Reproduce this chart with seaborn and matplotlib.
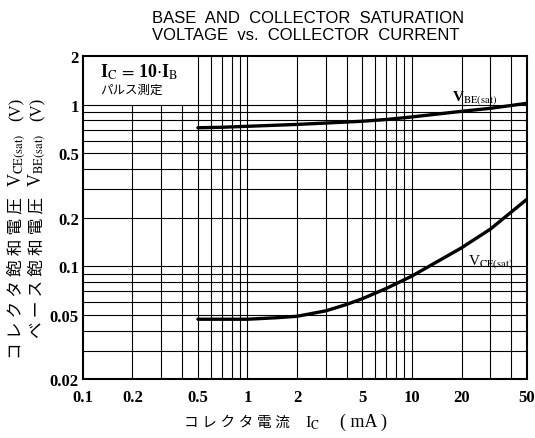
import numpy as np
import pandas as pd
import matplotlib
matplotlib.use("Agg")
import matplotlib.pyplot as plt
import seaborn as sns

# values (Ic in mA, voltages in V)
ic_vbe = [0.5, 0.7, 1, 2, 3, 5, 7, 10, 20, 30, 50]
vbe_sat = [0.72, 0.725, 0.735, 0.755, 0.77, 0.79, 0.81, 0.84, 0.91, 0.95, 1.02]
ic_vce = [0.5, 0.7, 1, 1.5, 2, 3, 4, 5, 7, 10, 20, 30, 50]
vce_sat = [0.047, 0.047, 0.047, 0.048, 0.049, 0.053, 0.058, 0.063, 0.073, 0.087, 0.13, 0.17, 0.26]

x_ticks = [0.1, 0.2, 0.5, 1, 2, 5, 10, 20, 50]
x_labels = ["0.1", "0.2", "0.5", "1", "2", "5", "10", "20", "50"]
y_ticks = [0.02, 0.05, 0.1, 0.2, 0.5, 1, 2]
y_labels = ["0.02", "0.05", "0.1", "0.2", "0.5", "1", "2"]

df = pd.concat([
    pd.DataFrame({"ic": ic_vbe, "v": vbe_sat, "curve": "VBE"}),
    pd.DataFrame({"ic": ic_vce, "v": vce_sat, "curve": "VCE"}),
])

sns.set_theme(style="white")
plt.rcParams["font.family"] = ["Liberation Serif", "Noto Sans CJK JP", "DejaVu Sans"]
plt.rcParams["mathtext.fontset"] = "stix"
plt.rcParams["text.color"] = "black"
plt.rcParams["xtick.color"] = "black"
plt.rcParams["ytick.color"] = "black"

fig = plt.figure(figsize=(5.35, 4.39), dpi=100)
ax = fig.add_axes([0.155, 0.134, 0.830, 0.736])
ax.set_xscale("log")
ax.set_yscale("log")
ax.set_xlim(0.1, 50)
ax.set_ylim(0.02, 2)

# grid: every 1-9 step of each decade
top1 = (np.log10(1) - np.log10(0.02)) / 2
for dec in [0.1, 1, 10]:
    for k in range(1, 10):
        xv = dec * k
        if xv <= 0.1 or xv >= 50:
            continue
        ax.axvline(xv, ymax=1 if xv >= 0.5 else top1, color="black", lw=0.8, zorder=1)
for dec in [0.01, 0.1]:
    for k in range(1, 10):
        yv = dec * k
        if 0.03 <= yv < 1:
            ax.axhline(yv, color="black", lw=0.8, zorder=1)
ax.axhline(1, color="black", lw=0.8, zorder=1)

sns.lineplot(data=df, x="ic", y="v", hue="curve", palette=["black", "black"],
             linewidth=2.4, legend=False, ax=ax, zorder=3)

ax.set_xticks(x_ticks)
ax.set_xticklabels(x_labels)
ax.set_yticks(y_ticks)
ax.set_yticklabels(y_labels)
ax.minorticks_off()
ax.tick_params(axis="x", length=0, pad=7, labelsize=12)
ax.tick_params(axis="y", length=0, pad=3, labelsize=12)
for lab in ax.get_xticklabels() + ax.get_yticklabels():
    lab.set_fontweight("bold")
for s in ax.spines.values():
    s.set_color("black")
    s.set_linewidth(1.5)
ax.set_xlabel("")
ax.set_ylabel("")

# annotations inside the plot
ax.text(0.127, 1.6, r"I$_\mathrm{C}$$\,=\,$10$\cdot$I$_\mathrm{B}$", fontsize=13,
        fontweight="bold", va="center")
ax.text(0.127, 1.24, "パルス測定", fontsize=9, va="center")
ax.text(24, 1.12, r"V$_\mathrm{BE(sat)}$", fontsize=11, fontweight="bold",
        ha="center", va="center")
ax.text(30, 0.107, r"V$_\mathrm{CE(sat)}$", fontsize=11, ha="center", va="center")

# title
fig.text(0.575, 0.957, "BASE  AND  COLLECTOR  SATURATION", family="Liberation Sans",
         fontsize=12, ha="center", va="center")
fig.text(0.572, 0.920, "VOLTAGE  vs.  COLLECTOR  CURRENT", family="Liberation Sans",
         fontsize=12, ha="center", va="center")

# x axis label
fig.text(0.542, 0.027, "コ レ ク タ 電 流", fontsize=10.5, ha="right", va="baseline")
fig.text(0.570, 0.027, r"I$_\mathrm{C}$", fontsize=12, ha="left", va="baseline")
fig.text(0.636, 0.027, "( mA )", fontsize=13, ha="left", va="baseline")

# y axis label, two rotated columns
for xb, jp, sub in [(0.039, "コ レ ク タ 飽 和 電 圧", "CE(sat)"),
                    (0.077, "ベ ー ス 飽 和 電 圧", "BE(sat)")]:
    fig.text(xb, 0.551, jp, fontsize=12, rotation=90, rotation_mode="anchor",
             ha="right", va="baseline")
    fig.text(xb, 0.574, "V$_\\mathrm{%s}$" % sub, fontsize=13, rotation=90,
             rotation_mode="anchor", ha="left", va="baseline")
    fig.text(xb, 0.724, "(V)", fontsize=12, rotation=90, rotation_mode="anchor",
             ha="left", va="baseline")

fig.savefig("out.png", dpi=100)
